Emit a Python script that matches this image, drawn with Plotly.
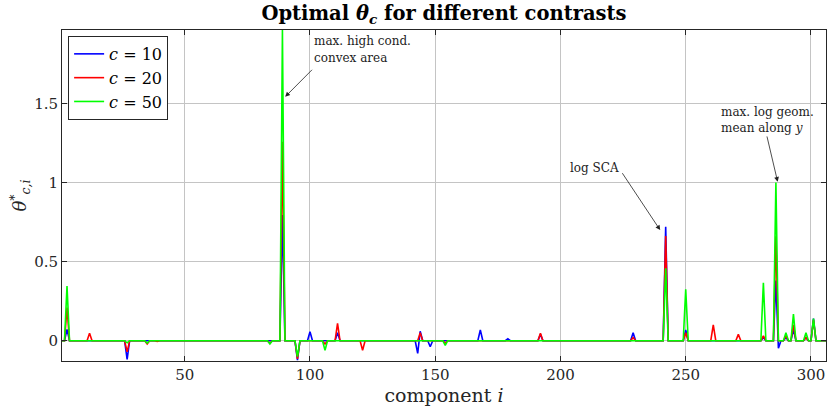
import numpy as np
import plotly.graph_objects as go

# composantes 1..306, valeurs nulles sauf aux pics listés
n_comp = 306
idx_pics = [3, 12, 27, 35, 39, 84, 89, 95, 100, 106, 111, 121, 143, 144, 148,
            154, 168, 179, 192, 229, 242, 250, 261, 271, 281, 286, 287, 290,
            293, 298, 301]
theta_c10 = [0.072, 0.0, -0.118, 0.0, 0.0, 0.0, 0.794, -0.122, 0.057, 0.0,
             0.05, 0.0, -0.08, 0.06, -0.038, 0.0, 0.068, 0.012, 0.04, 0.05,
             0.72, 0.068, 0.0, 0.0, 0.02, 0.38, -0.048, 0.02, 0.07, 0.02, 0.14]
theta_c20 = [0.21, 0.047, -0.07, -0.02, -0.005, -0.015, 1.257, -0.115, 0.0,
             -0.02, 0.11, -0.06, 0.0, 0.05, 0.0, -0.015, 0.0, 0.0, 0.047,
             0.02, 0.661, 0.05, 0.10, 0.04, 0.03, 0.66, 0.0, 0.03, 0.10,
             0.02, 0.13]
theta_c50 = [0.345, 0.0, -0.013, -0.015, 0.0, -0.02, 1.963, -0.10, 0.0,
             -0.06, 0.0, 0.0, 0.0, 0.0, 0.0, -0.03, 0.0, 0.0, 0.0, 0.0,
             0.457, 0.325, 0.0, 0.0, 0.366, 1.0, 0.0, 0.05, 0.168, 0.05, 0.14]
contrastes = [10, 20, 50]
couleurs = ['#0000ff', '#ff0000', '#00ff00']

x = np.arange(1, n_comp + 1)

def serie(vals):
    y = np.zeros(n_comp)
    y[np.array(idx_pics) - 1] = vals
    return y

police = 'DejaVu Serif'
fig = go.Figure()
for c, vals, col in zip(contrastes, [theta_c10, theta_c20, theta_c50], couleurs):
    fig.add_trace(go.Scatter(x=x, y=serie(vals), mode='lines',
                             line=dict(color=col, width=1.6),
                             name='<i>c</i> = %d' % c))

# flèches (pointe, queue) en coordonnées des données
fleches = [(90.1, 1.541, 101.4, 1.721),
           (239.8, 0.699, 224.3, 1.068),
           (286.7, 1.004, 282.3, 1.30)]
for xh, yh, xt, yt in fleches:
    fig.add_annotation(x=xh, y=yh, ax=xt, ay=yt, xref='x', yref='y',
                       axref='x', ayref='y', text='', showarrow=True,
                       arrowhead=2, arrowsize=1.2, arrowwidth=0.8,
                       arrowcolor='#222222', standoff=0, startstandoff=0)
# textes, une ligne par annotation
textes = [(101.7, 1.895, 'max. high cond.', 'left'),
          (101.7, 1.787, 'convex area', 'left'),
          (214.3, 1.09, 'log SCA', 'center'),
          (264.1, 1.447, 'max. log geom.', 'left'),
          (264.1, 1.342, 'mean along <i>y</i>', 'left')]
for xt, yt, txt, anc in textes:
    fig.add_annotation(x=xt, y=yt, xref='x', yref='y', text=txt,
                       showarrow=False, xanchor=anc, yanchor='middle',
                       xshift=-2, font=dict(family=police, size=12,
                                            color='#222222'))

fig.update_layout(
    width=831, height=416,
    margin=dict(l=62, r=5, t=30, b=55, autoexpand=False),
    plot_bgcolor='white', paper_bgcolor='white',
    font=dict(family=police, color='#262626'),
    title=dict(text='<b>Optimal <i>θ</i><sub><i>c</i></sub> for different contrasts</b>',
               x=0.5, xref='paper', xanchor='center', y=0.968, yanchor='middle',
               font=dict(size=19.5, color='#000000')),
    legend=dict(x=0.008, y=0.982, xanchor='left', yanchor='top',
                bgcolor='white', bordercolor='#262626', borderwidth=1,
                font=dict(size=16, color='#000000'), itemwidth=30,
                tracegroupgap=0),
    showlegend=True,
)
fig.update_xaxes(range=[1, 306], tickvals=[50, 100, 150, 200, 250, 300],
                 ticks='inside', ticklen=5, tickcolor='#262626', automargin=False,
                 showline=True, linecolor='#262626', linewidth=1, mirror='ticks',
                 showgrid=True, gridcolor='#c4c4c4', gridwidth=1, zeroline=False,
                 tickfont=dict(size=15),
                 title=dict(text='component <i>i</i>', font=dict(size=19), standoff=3))
fig.update_yaxes(range=[-0.128, 1.963], tickvals=[0, 0.5, 1, 1.5],
                 ticktext=['0', '0.5', '1', '1.5'],
                 ticks='inside', ticklen=5, tickcolor='#262626', automargin=False,
                 showline=True, linecolor='#262626', linewidth=1, mirror='ticks',
                 showgrid=True, gridcolor='#c4c4c4', gridwidth=1, zeroline=False,
                 tickfont=dict(size=15),
                 title=dict(text='<i>θ</i><sup>*</sup><sub><i>c,i</i></sub>',
                            font=dict(size=18), standoff=2))

# la page a une marge de 8px par défaut : on la retire
fig.write_html("out.html", config={'displayModeBar': False},
               post_script="document.body.style.margin='0';")
